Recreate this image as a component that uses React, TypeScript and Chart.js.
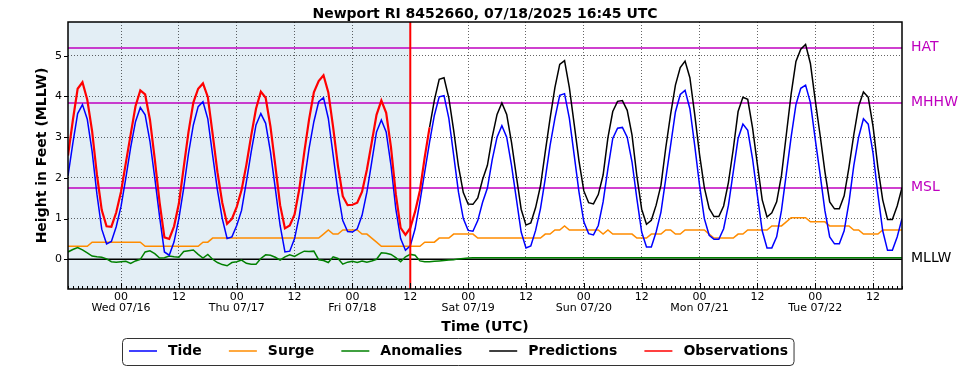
import React, { useEffect, useRef } from "react";
import { Chart, registerables } from "chart.js";

Chart.register(...registerables);
Chart.defaults.font.family = "'DejaVu Sans', 'Liberation Sans', sans-serif";

// ---- data (hours relative to 2025-07-16 00:00 UTC, hourly samples) ----
const TITLE = "Newport RI 8452660, 07/18/2025 16:45 UTC";
const X_MIN = -11;
const X_MAX = 162;
const Y_MIN = -0.73;
const Y_MAX = 5.83;
const NOW_HOUR = 60;
const SERIES_START = -11; // first hour of tide / surge / anomalies / observations
const PRED_START = 64; // first hour of predictions

const X_TICKS = [0, 12, 24, 36, 48, 60, 72, 84, 96, 108, 120, 132, 144, 156];
const DAY_LABELS = ["Wed 07/16", "Thu 07/17", "Fri 07/18", "Sat 07/19", "Sun 07/20", "Mon 07/21", "Tue 07/22"];
const Y_TICKS = [0, 1, 2, 3, 4, 5];

const DATUM_NAMES = ["HAT", "MHHW", "MSL", "MLLW"];
const DATUM_VALUES = [5.19, 3.84, 1.75, 0];

const tide = [
  2.05, 2.85, 3.58, 3.80, 3.44, 2.65, 1.60, 0.74, 0.38, 0.44, 0.80, 1.30,
  2.00, 2.75, 3.38, 3.73, 3.55, 2.90, 2.00, 1.05, 0.18, 0.10, 0.43, 1.00,
  1.75, 2.60, 3.30, 3.75, 3.87, 3.45, 2.56, 1.70, 1.00, 0.51, 0.55, 0.83,
  1.20, 1.90, 2.64, 3.30, 3.58, 3.34, 2.64, 1.74, 0.83, 0.18, 0.20, 0.51,
  1.08, 1.90, 2.72, 3.38, 3.87, 3.97, 3.46, 2.56, 1.65, 0.95, 0.68, 0.67,
  0.75, 1.08, 1.65, 2.39, 3.13, 3.42, 3.13, 2.31, 1.24, 0.51, 0.22, 0.33,
  0.75, 1.41, 2.15, 2.88, 3.54, 3.99, 4.02, 3.46, 2.56, 1.65, 1.00, 0.71,
  0.69, 0.95, 1.40, 1.75, 2.45, 3.00, 3.28, 3.00, 2.31, 1.49, 0.67, 0.28,
  0.33, 0.71, 1.24, 1.98, 2.80, 3.46, 4.03, 4.07, 3.46, 2.56, 1.65, 0.92,
  0.63, 0.60, 0.83, 1.41, 2.23, 2.97, 3.22, 3.24, 3.00, 2.39, 1.49, 0.67,
  0.30, 0.30, 0.67, 1.16, 1.98, 2.80, 3.62, 4.05, 4.15, 3.70, 2.80, 1.82,
  1.00, 0.59, 0.49, 0.49, 0.75, 1.33, 2.15, 2.97, 3.32, 3.17, 2.47, 1.57,
  0.70, 0.28, 0.28, 0.55, 1.20, 2.10, 3.00, 3.80, 4.20, 4.28, 3.85, 2.95,
  2.10, 1.20, 0.55, 0.38, 0.38, 0.70, 1.40, 2.30, 3.00, 3.45, 3.32, 2.60,
  1.60, 0.70, 0.22, 0.22, 0.55, 1.00,
];

const surge = [
  0.32, 0.32, 0.32, 0.32, 0.32, 0.42, 0.42, 0.42, 0.42, 0.42, 0.42, 0.42,
  0.42, 0.42, 0.42, 0.42, 0.32, 0.32, 0.32, 0.32, 0.32, 0.32, 0.32, 0.32,
  0.32, 0.32, 0.32, 0.32, 0.42, 0.42, 0.52, 0.52, 0.52, 0.52, 0.52, 0.52,
  0.52, 0.52, 0.52, 0.52, 0.52, 0.52, 0.52, 0.52, 0.52, 0.52, 0.52, 0.52,
  0.52, 0.52, 0.52, 0.52, 0.52, 0.62, 0.72, 0.62, 0.62, 0.72, 0.72, 0.72,
  0.72, 0.62, 0.62, 0.52, 0.42, 0.32, 0.32, 0.32, 0.32, 0.32, 0.32, 0.32,
  0.32, 0.32, 0.42, 0.42, 0.42, 0.52, 0.52, 0.52, 0.62, 0.62, 0.62, 0.62,
  0.62, 0.52, 0.52, 0.52, 0.52, 0.52, 0.52, 0.52, 0.52, 0.52, 0.52, 0.52,
  0.52, 0.52, 0.52, 0.62, 0.62, 0.72, 0.72, 0.82, 0.72, 0.72, 0.72, 0.72,
  0.72, 0.72, 0.72, 0.62, 0.72, 0.62, 0.62, 0.62, 0.62, 0.62, 0.52, 0.52,
  0.52, 0.62, 0.62, 0.62, 0.72, 0.72, 0.62, 0.62, 0.72, 0.72, 0.72, 0.72,
  0.72, 0.62, 0.52, 0.52, 0.52, 0.52, 0.52, 0.62, 0.62, 0.72, 0.72, 0.72,
  0.72, 0.72, 0.82, 0.82, 0.82, 0.92, 1.02, 1.02, 1.02, 1.02, 0.92, 0.92,
  0.92, 0.92, 0.82, 0.82, 0.82, 0.82, 0.82, 0.72, 0.72, 0.62, 0.62, 0.62,
  0.62, 0.72, 0.72, 0.72, 0.72, 0.72,
];

const anomalies = [
  0.18, 0.24, 0.29, 0.23, 0.16, 0.08, 0.06, 0.05, 0.01, -0.06, -0.07, -0.06,
  -0.05, -0.10, -0.04, 0.00, 0.18, 0.21, 0.14, 0.03, 0.04, 0.08, 0.06, 0.05,
  0.19, 0.21, 0.23, 0.12, 0.03, 0.12, 0.00, -0.08, -0.13, -0.16, -0.08, -0.06,
  -0.02, -0.10, -0.12, -0.12, 0.02, 0.11, 0.10, 0.05, -0.02, 0.06, 0.11, 0.07,
  0.14, 0.20, 0.19, 0.20, -0.01, -0.03, -0.08, 0.06, 0.02, -0.12, -0.07, -0.05,
  -0.08, -0.04, -0.07, -0.04, 0.00, 0.16, 0.15, 0.12, 0.04, -0.06, 0.06, 0.12,
  0.10, -0.04, -0.06, -0.06, -0.05, -0.04, -0.03, -0.02, -0.01, 0.01, 0.02, 0.03,
  0.04, 0.04, 0.04, 0.04, 0.04, 0.04, 0.04, 0.04, 0.04, 0.04, 0.04, 0.04,
  0.04, 0.04, 0.04, 0.04, 0.04, 0.04, 0.04, 0.04, 0.04, 0.04, 0.04, 0.04,
  0.04, 0.04, 0.04, 0.04, 0.04, 0.04, 0.04, 0.04, 0.04, 0.04, 0.04, 0.04,
  0.04, 0.04, 0.04, 0.04, 0.04, 0.04, 0.04, 0.04, 0.04, 0.04, 0.04, 0.04,
  0.04, 0.04, 0.04, 0.04, 0.04, 0.04, 0.04, 0.04, 0.04, 0.04, 0.04, 0.04,
  0.04, 0.04, 0.04, 0.04, 0.04, 0.04, 0.04, 0.04, 0.04, 0.04, 0.04, 0.04,
  0.04, 0.04, 0.04, 0.04, 0.04, 0.04, 0.04, 0.04, 0.04, 0.04, 0.04, 0.04,
  0.04, 0.04, 0.04, 0.04, 0.04, 0.04,
];

const observations = [
  2.55, 3.41, 4.19, 4.35, 3.92, 3.15, 2.08, 1.21, 0.81, 0.80, 1.15, 1.66,
  2.37, 3.07, 3.76, 4.15, 4.05, 3.43, 2.46, 1.40, 0.54, 0.50, 0.81, 1.37,
  2.26, 3.13, 3.85, 4.19, 4.32, 3.99, 3.08, 2.14, 1.39, 0.87, 0.99, 1.29,
  1.70, 2.32, 3.04, 3.70, 4.12, 3.97, 3.26, 2.31, 1.33, 0.76, 0.83, 1.10,
  1.74, 2.62, 3.43, 4.10, 4.38, 4.52, 4.10, 3.24, 2.29, 1.55, 1.33, 1.34,
  1.39, 1.66, 2.20, 2.87, 3.55, 3.90, 3.60, 2.75, 1.60, 0.77, 0.60, 0.77,
  1.17, 1.69, 2.51, 3.24,
];

const predictions = [
  3.24, 3.91, 4.42, 4.46, 3.96, 3.17, 2.28, 1.64, 1.36, 1.35, 1.51, 1.96,
  2.31, 3.01, 3.56, 3.84, 3.56, 2.87, 2.05, 1.23, 0.84, 0.89, 1.27, 1.80,
  2.64, 3.46, 4.22, 4.79, 4.88, 4.22, 3.32, 2.41, 1.68, 1.39, 1.36, 1.59,
  2.07, 2.99, 3.63, 3.88, 3.90, 3.66, 3.05, 2.05, 1.23, 0.86, 0.96, 1.33,
  1.82, 2.74, 3.56, 4.28, 4.71, 4.87, 4.46, 3.56, 2.58, 1.76, 1.25, 1.05,
  1.05, 1.31, 1.89, 2.71, 3.63, 3.98, 3.93, 3.23, 2.33, 1.46, 1.04, 1.14,
  1.41, 2.06, 3.06, 4.06, 4.86, 5.16, 5.28, 4.81, 3.91, 3.06, 2.16, 1.41,
  1.24, 1.24, 1.56, 2.26, 3.06, 3.76, 4.11, 3.98, 3.26, 2.26, 1.46, 0.98,
  0.98, 1.31, 1.76,
];

const LEGEND_ORDER = ["Tide", "Surge", "Anomalies", "Predictions", "Observations"];

const toPoints = (vals: number[], start: number) => vals.map((v, i) => ({ x: start + i, y: v }));

const FONT = "'DejaVu Sans', 'Liberation Sans', sans-serif";
const MAGENTA = "#bf00bf";

const overlay = {
  id: "overlay",
  beforeDraw(chart: any) {
    const { ctx, chartArea: a, scales } = chart;
    ctx.save();
    ctx.fillStyle = "#ffffff";
    ctx.fillRect(0, 0, chart.width, chart.height);
    const xn = scales.x.getPixelForValue(NOW_HOUR);
    ctx.fillStyle = "rgb(227,238,245)";
    ctx.fillRect(a.left, a.top, xn - a.left, a.bottom - a.top);
    ctx.restore();
  },
  beforeDatasetsDraw(chart: any) {
    const { ctx, chartArea: a, scales } = chart;
    ctx.save();
    DATUM_VALUES.forEach((v, i) => {
      const py = scales.y.getPixelForValue(v);
      ctx.strokeStyle = DATUM_NAMES[i] === "MLLW" ? "#000000" : MAGENTA;
      ctx.lineWidth = 1.5;
      ctx.beginPath();
      ctx.moveTo(a.left, py);
      ctx.lineTo(a.right, py);
      ctx.stroke();
    });
    ctx.restore();
  },
  afterDatasetsDraw(chart: any) {
    const { ctx, chartArea: a, scales } = chart;
    ctx.save();
    // now line
    const xn = scales.x.getPixelForValue(NOW_HOUR);
    ctx.strokeStyle = "#ff0000";
    ctx.lineWidth = 2;
    ctx.beginPath();
    ctx.moveTo(xn, a.top);
    ctx.lineTo(xn, a.bottom);
    ctx.stroke();
    // frame
    ctx.strokeStyle = "#000";
    ctx.lineWidth = 1.5;
    ctx.strokeRect(a.left, a.top, a.right - a.left, a.bottom - a.top);
    // x ticks (inward)
    ctx.lineWidth = 1;
    for (let h = Math.ceil(X_MIN); h <= X_MAX; h++) {
      const px = Math.round(scales.x.getPixelForValue(h)) + 0.5;
      const len = h % 12 === 0 ? 6 : 3;
      ctx.beginPath();
      ctx.moveTo(px, a.bottom);
      ctx.lineTo(px, a.bottom - len);
      ctx.stroke();
    }
    // y ticks (outward)
    Y_TICKS.forEach((v) => {
      const py = Math.round(scales.y.getPixelForValue(v)) + 0.5;
      ctx.beginPath();
      ctx.moveTo(a.left - 4, py);
      ctx.lineTo(a.left, py);
      ctx.stroke();
    });
    ctx.restore();
  },
  afterDraw(chart: any) {
    const { ctx, chartArea: a, scales } = chart;
    ctx.save();
    // title
    ctx.fillStyle = "#000";
    ctx.font = `bold 14px ${FONT}`;
    ctx.textAlign = "center";
    ctx.textBaseline = "alphabetic";
    ctx.fillText(TITLE, (a.left + a.right) / 2, 17.5);
    // datum labels
    ctx.font = `14px ${FONT}`;
    ctx.textAlign = "left";
    ctx.textBaseline = "middle";
    DATUM_VALUES.forEach((v, i) => {
      ctx.fillStyle = DATUM_NAMES[i] === "MLLW" ? "#000" : MAGENTA;
      ctx.fillText(DATUM_NAMES[i], a.right + 9, scales.y.getPixelForValue(v) - 0.5);
    });
    // legend
    const ly = 351;
    ctx.font = `bold 14px ${FONT}`;
    let x = 129;
    const items: any[] = [];
    LEGEND_ORDER.forEach((name) => {
      const ds = chart.data.datasets.find((d: any) => d.label === name);
      const tw = ctx.measureText(name).width;
      items.push({ name, x, color: ds.borderColor, tw });
      x += 39 + tw + 27;
    });
    const last = items[items.length - 1];
    const boxL = 122.5;
    const boxR = last.x + 39 + last.tw + 6;
    ctx.strokeStyle = "#333";
    ctx.lineWidth = 1;
    ctx.beginPath();
    (ctx as any).roundRect(boxL, 338.5, boxR - boxL, 27, 4);
    ctx.stroke();
    items.forEach((it) => {
      ctx.strokeStyle = it.color;
      ctx.lineWidth = 1.5;
      ctx.beginPath();
      ctx.moveTo(it.x, ly);
      ctx.lineTo(it.x + 28, ly);
      ctx.stroke();
      ctx.fillStyle = "#000";
      ctx.textAlign = "left";
      ctx.textBaseline = "middle";
      ctx.fillText(it.name, it.x + 39, ly);
    });
    ctx.restore();
  },
};

function xTickLabel(value: number) {
  const day = Math.floor(value / 24);
  const hh = value - day * 24;
  const hs = String(hh).padStart(2, "0");
  return hh === 0 ? [hs, DAY_LABELS[day]] : hs;
}

export default function App() {
  const ref = useRef<HTMLCanvasElement>(null);
  useEffect(() => {
    const chart = new Chart(ref.current as HTMLCanvasElement, {
      type: "line",
      data: {
        datasets: [
          { label: "Observations", data: toPoints(observations, SERIES_START), borderColor: "#ff0000", borderWidth: 2.2 },
          { label: "Predictions", data: toPoints(predictions, PRED_START), borderColor: "#000000", borderWidth: 1.5 },
          { label: "Tide", data: toPoints(tide, SERIES_START), borderColor: "#0000ff", borderWidth: 1.5 },
          { label: "Anomalies", data: toPoints(anomalies, SERIES_START), borderColor: "#008000", borderWidth: 1.5 },
          { label: "Surge", data: toPoints(surge, SERIES_START), borderColor: "#ff8c00", borderWidth: 1.5 },
        ] as any,
      },
      options: {
        animation: false,
        responsive: false,
        devicePixelRatio: 1,
        events: [],
        parsing: false as any,
        elements: { point: { radius: 0 }, line: { tension: 0, fill: false } },
        layout: { padding: { left: 0, top: 22, right: 67, bottom: 0 } },
        plugins: { legend: { display: false }, tooltip: { enabled: false }, title: { display: false } },
        scales: {
          x: {
            type: "linear",
            min: X_MIN,
            max: X_MAX,
            afterBuildTicks: (s: any) => {
              s.ticks = X_TICKS.map((v) => ({ value: v }));
            },
            afterFit: (s: any) => {
              s.height = 81;
            },
            ticks: {
              autoSkip: false,
              maxRotation: 0,
              minRotation: 0,
              padding: 3,
              color: "#000",
              font: { size: 11, lineHeight: 1 },
              callback: (v: any) => xTickLabel(Number(v)),
            },
            grid: { color: "rgba(0,0,0,0.6)", lineWidth: 1, drawTicks: false },
            border: { display: false, dash: [1, 2] },
            title: {
              display: true,
              text: "Time (UTC)",
              color: "#000",
              font: { size: 14, weight: "bold", lineHeight: 1.2 },
              padding: { top: 0, bottom: 34.6 },
            },
          },
          y: {
            type: "linear",
            min: Y_MIN,
            max: Y_MAX,
            afterBuildTicks: (s: any) => {
              s.ticks = Y_TICKS.map((v) => ({ value: v }));
            },
            afterFit: (s: any) => {
              s.width = 68;
            },
            ticks: { padding: 6, color: "#000", font: { size: 11 } },
            grid: { color: "rgba(0,0,0,0.6)", lineWidth: 1, drawTicks: false },
            border: { display: false, dash: [1, 2] },
            title: {
              display: true,
              text: "Height in Feet (MLLW)",
              color: "#000",
              font: { size: 14, weight: "bold", lineHeight: 1.2 },
              padding: { top: 33.6, bottom: 0 },
            },
          },
        },
      } as any,
      plugins: [overlay],
    });
    return () => chart.destroy();
  }, []);
  return (
    <div style={{ position: "absolute", left: 0, top: 0, width: 969, height: 370, background: "#fff" }}>
      <canvas ref={ref} width={969} height={370} style={{ display: "block", width: 969, height: 370 }} />
    </div>
  );
}
